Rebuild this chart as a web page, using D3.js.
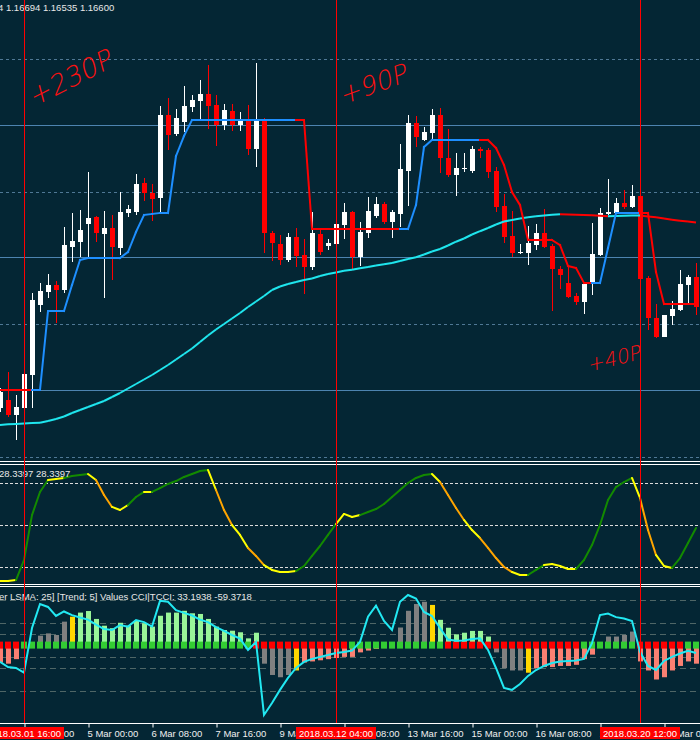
<!DOCTYPE html>
<html>
<head>
<meta charset="utf-8">
<script src="https://cdn.jsdelivr.net/npm/d3@7"></script>
<style>
  html, body { margin: 0; padding: 0; background: #042634; }
  svg { display: block; }
  text { font-family: "Liberation Sans", Arial, sans-serif; }
</style>
</head>
<body>
<div id="chart"></div>
<script>
// H4 candles, bar index 0..87
const open = [1.2092,1.2100,1.2085,1.2092,1.2125,1.2195,1.2208,1.2215,1.2210,1.2253,
  1.2258,1.2276,1.2283,1.2266,1.2272,1.2252,1.2287,1.2288,1.2317,1.2307,
  1.2302,1.2385,1.2366,1.2378,1.2393,1.2399,1.2406,1.2395,1.2375,1.2389,
  1.2375,1.2379,1.2351,1.2379,1.2267,1.2256,1.2240,1.2263,1.2245,1.2233,
  1.2266,1.2254,1.2256,1.2275,1.2288,1.2243,1.2267,1.2284,1.2296,1.2278,
  1.2286,1.2329,1.2377,1.2360,1.2367,1.2385,1.2342,1.2325,1.2331,1.2329,
  1.2351,1.2350,1.2329,1.2294,1.2264,1.2247,1.2247,1.2255,1.2267,1.2254,
  1.2231,1.2217,1.2204,1.2198,1.2217,1.2245,1.2286,1.2287,1.2297,1.2293,
  1.2304,1.2222,1.2182,1.2163,1.2184,1.2190,1.2215,1.2223];
const high = [1.2112,1.2128,1.2105,1.2128,1.2207,1.2217,1.2226,1.2219,1.2273,1.2287,
  1.2290,1.2328,1.2284,1.2289,1.2285,1.2308,1.2295,1.2326,1.2322,1.2316,
  1.2394,1.2402,1.2391,1.2414,1.2405,1.2420,1.2435,1.2405,1.2396,1.2396,
  1.2388,1.2395,1.2437,1.2382,1.2269,1.2265,1.2267,1.2272,1.2261,1.2288,
  1.2271,1.2261,1.2278,1.2297,1.2289,1.2278,1.2303,1.2303,1.2298,1.2290,
  1.2356,1.2385,1.2384,1.2373,1.2391,1.2392,1.2371,1.2347,1.2347,1.2354,
  1.2353,1.2352,1.2333,1.2306,1.2289,1.2256,1.2274,1.2276,1.2291,1.2256,
  1.2234,1.2233,1.2207,1.2217,1.2277,1.2292,1.2321,1.2302,1.2310,1.2315,
  1.2305,1.2224,1.2196,1.2185,1.2199,1.2230,1.2225,1.2237];
const low = [1.2088,1.2083,1.2060,1.2088,1.2092,1.2188,1.2202,1.2177,1.2207,1.2238,
  1.2243,1.2242,1.2258,1.2202,1.2220,1.2245,1.2283,1.2285,1.2299,1.2279,
  1.2287,1.2350,1.2364,1.2368,1.2388,1.2380,1.2371,1.2354,1.2370,1.2369,
  1.2369,1.2345,1.2333,1.2247,1.2239,1.2235,1.2238,1.2233,1.2206,1.2230,
  1.2245,1.2250,1.2254,1.2261,1.2231,1.2234,1.2262,1.2282,1.2276,1.2262,
  1.2273,1.2294,1.2353,1.2359,1.2360,1.2327,1.2323,1.2304,1.2328,1.2327,
  1.2342,1.2322,1.2288,1.2257,1.2243,1.2246,1.2235,1.2250,1.2252,1.2189,
  1.2211,1.2202,1.2195,1.2186,1.2205,1.2244,1.2285,1.2286,1.2291,1.2292,
  1.2220,1.2170,1.2162,1.2163,1.2175,1.2189,1.2197,1.2185];
const close = [1.2108,1.2085,1.2093,1.2126,1.2200,1.2209,1.2215,1.2210,1.2255,1.2259,
  1.2270,1.2282,1.2267,1.2272,1.2253,1.2288,1.2291,1.2316,1.2307,1.2301,
  1.2385,1.2365,1.2382,1.2394,1.2400,1.2406,1.2394,1.2375,1.2390,1.2375,
  1.2380,1.2351,1.2379,1.2267,1.2257,1.2240,1.2263,1.2244,1.2233,1.2267,
  1.2248,1.2257,1.2276,1.2288,1.2243,1.2268,1.2289,1.2296,1.2278,1.2288,
  1.2331,1.2377,1.2363,1.2368,1.2385,1.2342,1.2325,1.2332,1.2332,1.2351,
  1.2349,1.2328,1.2293,1.2263,1.2247,1.2248,1.2257,1.2267,1.2253,1.2231,
  1.2225,1.2203,1.2198,1.2216,1.2246,1.2287,1.2288,1.2297,1.2293,1.2304,
  1.2221,1.2182,1.2163,1.2185,1.2191,1.2216,1.2223,1.2193];

// step trend line and its direction (1 = up/blue, -1 = down/red)
const trend = [1.2110,1.2110,1.2110,1.2110,1.2110,1.2110,1.2189,1.2189,1.2189,1.2215,
  1.2240,1.2242,1.2242,1.2242,1.2242,1.2242,1.2248,1.2268,1.2285,1.2286,
  1.2287,1.2287,1.2344,1.2364,1.2380,1.2380,1.2380,1.2380,1.2380,1.2380,
  1.2380,1.2380,1.2380,1.2380,1.2380,1.2380,1.2380,1.2380,1.2380,1.2271,
  1.2271,1.2271,1.2271,1.2271,1.2271,1.2271,1.2271,1.2271,1.2271,1.2271,
  1.2271,1.2271,1.2295,1.2353,1.2360,1.2360,1.2360,1.2360,1.2360,1.2360,
  1.2360,1.2360,1.2352,1.2335,1.2308,1.2295,1.2260,1.2260,1.2260,1.2260,
  1.2255,1.2234,1.2232,1.2217,1.2217,1.2217,1.2252,1.2287,1.2287,1.2287,
  1.2287,1.2287,1.2228,1.2196,1.2196,1.2196,1.2196,1.2196];
const trendDir = [-1,-1,-1,-1,1,1,1,1,1,1, 1,1,1,1,1,1,1,1,1,1, 1,1,1,1,1,1,1,1,1,1,
  1,1,1,1,1,1,1,-1,-1,-1, -1,-1,-1,-1,-1,-1,-1,-1,-1,-1, 1,1,1,1,1,1,1,1,1,1,
  -1,-1,-1,-1,-1,-1,-1,-1,-1,-1, -1,-1,-1,-1,1,1,1,1,1,1, -1,-1,-1,-1,-1,-1,-1,-1];

// moving average
const ma = [1.20750,1.20757,1.20760,1.20765,1.20770,1.20773,1.20790,1.20810,1.20835,1.20870,
  1.20900,1.20930,1.20960,1.20990,1.21030,1.21070,1.21115,1.21160,1.21205,1.21250,
  1.21300,1.21350,1.21405,1.21460,1.21515,1.21580,1.21645,1.21705,1.21760,1.21815,
  1.21870,1.21930,1.21985,1.22040,1.22100,1.22135,1.22160,1.22180,1.22200,1.22215,
  1.22240,1.22260,1.22275,1.22293,1.22303,1.22317,1.22330,1.22345,1.22357,1.22370,
  1.22390,1.22410,1.22427,1.22455,1.22485,1.22510,1.22545,1.22583,1.22615,1.22655,
  1.22688,1.22720,1.22755,1.22785,1.22800,1.22815,1.22827,1.22837,1.22845,1.22853,
  1.22858,1.22856,1.22853,1.22850,1.22847,1.22843,1.22838,1.22840,1.22842,1.22844,
  1.22845,1.22835,1.22827,1.22815,1.22803,1.22793,1.22784,1.22776];

const gridLevels = [1.2441, 1.2308, 1.2176, 1.2043];
const hLines = [1.2375, 1.2243, 1.2110];

// oscillator panel
const osc = [10,10,10.7,25,57.1,73.6,82.1,82.9,83.6,85,
  85.7,86.4,82.1,71.4,62.9,60.7,64.3,70,73.6,73.6,
  76.4,79.3,81.4,84.3,86.4,88.6,89.3,75,60.7,50,
  42.9,33.6,27.9,21.4,17.9,16.4,16.4,17.1,20.7,27.9,
  35,42.9,50.7,57.9,55.7,57.1,59.3,61.4,65,70,
  75,80,83.6,85.7,86.4,80.7,71.4,62.1,53.6,46.4,
  40.7,33.6,26.4,20,16.4,14.3,14.3,17.9,21.4,22.1,
  20.7,18.6,18.6,25,35.7,50,67.9,77.1,80.7,83.6,
  69.3,46.4,28.6,20.7,19.3,26.4,37.1,47.9];
// g = green (rising), y = yellow (turning), o = orange (falling)
const oscState = ("yyyggggyyg" + "ggyooyyggy" + "gggggggyoo" + "yyooyyyygg" + "gggyyygggg" +
  "gggggyoooy" + "yooooyyggy" + "yyyggggggg" + "yooyyggg");
const oscLevels = [80, 50, 20];

// CCI panel
const cciHist = [-75,-80,-60,0,0,44,54,47,106,128,
  146,153,118,88,77,101,88,110,99,84,
  132,146,146,154,143,140,118,84,69,66,
  59,32,57,-80,-130,-140,-130,-110,-75,-70,
  -65,-60,-55,-50,-50,-30,-22,-15,-11,-11,
  80,154,184,194,180,114,79,50,57,65,
  65,40,-30,-100,-110,-110,-120,-100,-95,-95,
  -90,-90,-85,-60,-40,0,40,40,47,62,
  -70,-110,-150,-140,-110,-90,-70,-80];
// s = salmon, g = grey, y = gold, l = light green
const cciHistState = ("sssssggggy" + "llllllllll" + "llllllllll" + "lllggggyss" + "ssssssssss" +
  "ggggylllll" + "llggggysss" + "ssssssgggg" + "ssssssss");
const cciTrend = ("RRRGGGGGGG" + "GGGGGGGGGG" + "GGGGGGGGGG" + "GGRRRRRRRR" + "RRRRGGGGGG" +
  "GGGGGGRRRR" + "RRRRRRRRRR" + "RRRGGGGGGG" + "RRRRRRGG");
const cciLine = [-72,-95,-99,-120,78,184,171,131,151,135,
  124,115,93,73,69,91,84,113,104,84,
  198,194,157,145,133,115,104,82,65,47,
  31,-19,16,-307,-254,-196,-143,-99,-72,-59,
  -50,-42,-33,-28,-22,16,128,177,109,69,
  194,224,208,149,131,78,27,22,23,29,
  32,-19,-99,-187,-196,-170,-134,-108,-90,-77,
  -70,-68,-66,-59,11,135,142,126,120,109,
  -27,-90,-108,-68,-50,-35,-23,-33];
const cciLevels = [200, 100, 50, -50, -100, -200];

// time axis
const tickIdx = [3, 11, 19, 27, 35, 43, 51, 59, 67, 75, 83];
const tickLabels = ["1 Mar 16:00", "5 Mar 00:00", "6 Mar 08:00", "7 Mar 16:00", "9 Mar 00:00",
  "12 Mar 08:00", "13 Mar 16:00", "15 Mar 00:00", "16 Mar 08:00", "19 Mar 16:00", "21 Mar 00:00"];
const vLineIdx = [3, 42, 80];
const vLineLabels = ["2018.03.01 16:00", "2018.03.12 04:00", "2018.03.20 12:00"];

const notes = [
  { text: "+230P", i: 4.2, price: 1.2393, angle: -27, size: 27 },
  { text: "+90P", i: 42.8, price: 1.2395, angle: -20, size: 26 },
  { text: "+40P", i: 73.6, price: 1.2128, angle: -14, size: 20 }
];

const W = 700, H = 740;
const svg = d3.select("#chart").append("svg").attr("width", W).attr("height", H);
svg.append("rect").attr("width", W).attr("height", H).attr("fill", "#042634");

const x = d3.scaleLinear().domain([0, 87.5]).range([0, 700]);
const yP = d3.scaleLinear().domain([1.2500, 1.2038]).range([0, 462]);
const yO = d3.scaleLinear().domain([0, 100]).range([595, 455]);
const yC = d3.scaleLinear().domain([-100, 100]).range([668.2, 623.0]);
const idx = d3.range(open.length);

const defs = svg.append("defs");
[["clipMain", 0, 461], ["clipOsc", 465, 119], ["clipCci", 587, 136]].forEach(c => {
  defs.append("clipPath").attr("id", c[0]).append("rect")
    .attr("x", 0).attr("y", c[1]).attr("width", W).attr("height", c[2]);
});

// ---- main panel ----
const main = svg.append("g").attr("clip-path", "url(#clipMain)");
main.selectAll(".grid").data(gridLevels).enter().append("line")
  .attr("x1", 0).attr("x2", W)
  .attr("y1", d => Math.round(yP(d)) + 0.5).attr("y2", d => Math.round(yP(d)) + 0.5)
  .attr("stroke", "#4f7895").attr("stroke-dasharray", "3,3");
main.selectAll(".hl").data(hLines).enter().append("line")
  .attr("x1", 0).attr("x2", W)
  .attr("y1", d => Math.round(yP(d)) + 0.5).attr("y2", d => Math.round(yP(d)) + 0.5)
  .attr("stroke", "#4d84b0");

const candle = main.selectAll(".candle").data(idx).enter().append("g");
candle.append("line")
  .attr("x1", i => x(i) + 0.5).attr("x2", i => x(i) + 0.5)
  .attr("y1", i => yP(high[i])).attr("y2", i => yP(low[i]))
  .attr("stroke", i => close[i] >= open[i] ? "#ffffff" : "#ff0000");
candle.append("rect")
  .attr("x", i => x(i) - 2).attr("width", 5)
  .attr("y", i => yP(Math.max(open[i], close[i])))
  .attr("height", i => Math.max(1, Math.abs(yP(open[i]) - yP(close[i]))))
  .attr("fill", i => close[i] >= open[i] ? "#ffffff" : "#ff0000");

// moving average, cyan while rising, red while falling
idx.slice(1).forEach(i => {
  main.append("line")
    .attr("x1", x(i - 1)).attr("y1", yP(ma[i - 1])).attr("x2", x(i)).attr("y2", yP(ma[i]))
    .attr("stroke", ma[i] >= ma[i - 1] ? "#1fe6ee" : "#ff0000").attr("stroke-width", 2);
});
// step trend line
idx.slice(0, -1).forEach(i => {
  main.append("line")
    .attr("x1", x(i)).attr("y1", yP(trend[i])).attr("x2", x(i + 1)).attr("y2", yP(trend[i + 1]))
    .attr("stroke", trendDir[i] > 0 ? "#1e8fff" : "#ff0000").attr("stroke-width", 2)
    .attr("stroke-linecap", "square");
});

main.selectAll(".note").data(notes).enter().append("text")
  .attr("transform", d => `translate(${x(d.i)},${yP(d.price)}) rotate(${d.angle}) skewX(-12)`)
  .attr("fill", "#ff1010").attr("font-size", d => d.size).attr("font-weight", 200)
  .style("font-family", "'DejaVu Sans', sans-serif")
  .text(d => d.text);

svg.append("text").attr("x", -2).attr("y", 11).attr("fill", "#e8e8e8")
  .attr("font-size", 9.5).text("4 1.16694 1.16535 1.16600");

// ---- oscillator panel ----
const op = svg.append("g").attr("clip-path", "url(#clipOsc)");
op.selectAll(".lvl").data(oscLevels).enter().append("line")
  .attr("x1", 0).attr("x2", W)
  .attr("y1", d => Math.round(yO(d)) + 0.5).attr("y2", d => Math.round(yO(d)) + 0.5)
  .attr("stroke", "#dcdcdc").attr("stroke-dasharray", "3,2");
const oscColor = { g: "#138a00", y: "#ffff00", o: "#ffa500" };
idx.slice(1).forEach(i => {
  op.append("line")
    .attr("x1", x(i - 1)).attr("y1", yO(osc[i - 1])).attr("x2", x(i)).attr("y2", yO(osc[i]))
    .attr("stroke", oscColor[oscState[i]]).attr("stroke-width", 2).attr("stroke-linecap", "round");
});
svg.append("text").attr("x", -1).attr("y", 477).attr("fill", "#e8e8e8")
  .attr("font-size", 9.5).text("28.3397 28.3397");

// ---- CCI panel ----
const cp = svg.append("g").attr("clip-path", "url(#clipCci)");
cp.selectAll(".lvl").data(cciLevels).enter().append("line")
  .attr("x1", 0).attr("x2", W)
  .attr("y1", d => Math.round(yC(d)) + 0.5).attr("y2", d => Math.round(yC(d)) + 0.5)
  .attr("stroke", "#4f6666").attr("stroke-dasharray", "6,4");
const histColor = { s: "#fa8072", g: "#808080", y: "#ffd700", l: "#98f598" };
cp.selectAll(".hist").data(idx.filter(i => cciHist[i] !== 0)).enter().append("rect")
  .attr("x", i => x(i) - 2).attr("width", 5)
  .attr("y", i => Math.min(yC(cciHist[i]), yC(0)))
  .attr("height", i => Math.abs(yC(cciHist[i]) - yC(0)))
  .attr("fill", i => histColor[cciHistState[i]]);
cp.selectAll(".sq").data(idx).enter().append("rect")
  .attr("x", i => x(i) - 3).attr("width", 6)
  .attr("y", yC(0) - 4).attr("height", 7)
  .attr("fill", i => cciTrend[i] === "G" ? "#33cc33" : "#ff0000");
cp.append("path").datum(idx)
  .attr("d", d3.line().x(i => x(i)).y(i => yC(cciLine[i])))
  .attr("fill", "none").attr("stroke", "#22e8f2").attr("stroke-width", 2);
svg.append("text").attr("x", -1).attr("y", 600).attr("fill", "#e8e8e8")
  .attr("font-size", 9.5).text("er LSMA: 25] [Trend: 5] Values CCI|TCCI: 33.1938 -59.3718");

// ---- separators ----
[461.5, 464.5, 584.5, 586.5].forEach(yy => {
  svg.append("line").attr("x1", 0).attr("x2", W).attr("y1", yy).attr("y2", yy).attr("stroke", "#ffffff");
});

// ---- time axis ----
const axis = d3.axisBottom(x).tickValues(tickIdx)
  .tickFormat((d, k) => tickLabels[k]).tickSizeInner(4).tickSizeOuter(0);
const ax = svg.append("g").attr("transform", "translate(0,723.5)").call(axis);
ax.select(".domain").attr("stroke", "#ffffff").attr("d", "M0,0H700");
ax.selectAll(".tick line").attr("stroke", "#ffffff").attr("transform", "translate(0.5,0)");
ax.selectAll(".tick text").attr("fill", "#f0f0f0").attr("font-size", 9.5)
  .attr("text-anchor", "start").attr("dx", -1).attr("y", 5).attr("dy", "0.85em")
  .style("font-family", "'Liberation Sans', Arial, sans-serif");

// ---- vertical lines with date boxes ----
vLineIdx.forEach((i, k) => {
  svg.append("line").attr("x1", x(i) + 0.5).attr("x2", x(i) + 0.5).attr("y1", 0).attr("y2", 723)
    .attr("stroke", "#ff0000");
  svg.append("rect").attr("x", x(i) - 40).attr("y", 727).attr("width", 80).attr("height", 12)
    .attr("fill", "#ff0000");
  svg.append("text").attr("x", x(i)).attr("y", 736.5).attr("text-anchor", "middle")
    .attr("fill", "#ffffff").attr("font-size", 9.5).text(vLineLabels[k]);
});
</script>
</body>
</html>
